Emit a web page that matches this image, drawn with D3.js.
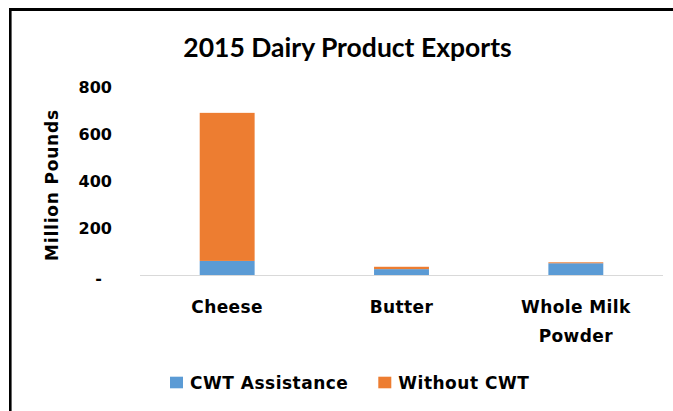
<!DOCTYPE html>
<html><head><meta charset="utf-8">
<script src="https://cdn.jsdelivr.net/npm/d3@7"></script>
<style>html,body{margin:0;padding:0;background:#fff;overflow:hidden}</style>
</head><body><svg id="c" width="673" height="411"></svg>
<script>
const categories = [["Cheese"], ["Butter"], ["Whole Milk", "Powder"]];
const categoryKeys = ["Cheese", "Butter", "Whole Milk Powder"];
const cwtAssistance = [60, 25, 50];
const withoutCWT = [630, 10, 4];
const seriesNames = ["CWT Assistance", "Without CWT"];
const seriesColors = ["#5B9BD5", "#ED7D31"];
const yTicks = [0, 200, 400, 600, 800];
const chartTitle = "2015 Dairy Product Exports";
const yTitle = "Million Pounds";

const svg = d3.select("#c");
const font = "'DejaVu Sans', sans-serif";
const titleFont = "Lato, 'Liberation Sans', sans-serif";

// frame (top and left)
svg.append("line").attr("x1", 9).attr("x2", 673).attr("y1", 9.5).attr("y2", 9.5).attr("stroke", "#000").attr("stroke-width", 3);
svg.append("line").attr("x1", 10.3).attr("x2", 10.3).attr("y1", 8).attr("y2", 411).attr("stroke", "#000").attr("stroke-width", 2.6);

const x = d3.scaleBand().domain(categoryKeys).range([140, 663]).paddingInner(0.685).paddingOuter(0.3425);
const y = d3.scaleLinear().domain([0, 800]).range([275, 87]);

const data = categoryKeys.map((k, i) => ({key: k, cwt: cwtAssistance[i], without: withoutCWT[i]}));
const stack = d3.stack().keys(["cwt", "without"])(data);

svg.append("g").selectAll("g").data(stack).join("g")
  .attr("fill", (d, i) => seriesColors[i])
  .selectAll("rect").data(d => d).join("rect")
  .attr("x", d => x(d.data.key))
  .attr("width", x.bandwidth())
  .attr("y", d => y(d[1]))
  .attr("height", d => y(d[0]) - y(d[1]));

// baseline
svg.append("line").attr("x1", 140).attr("x2", 663).attr("y1", y(0) + 0.5).attr("y2", y(0) + 0.5)
  .attr("stroke", "#d9d9d9").attr("stroke-width", 1);

// y tick labels
svg.append("g").selectAll("text").data(yTicks).join("text")
  .attr("x", d => d === 0 ? 102 : 112)
  .attr("y", d => y(d))
  .attr("dy", d => d === 0 ? "0.55em" : "0.36em")
  .attr("text-anchor", "end")
  .attr("font-family", font).attr("font-weight", 700).attr("font-size", 16)
  .attr("fill", "#000")
  .text(d => d === 0 ? "-" : d3.format("d")(d));

// y title
svg.append("text")
  .attr("transform", `translate(52,185) rotate(-90)`)
  .attr("text-anchor", "middle").attr("dy", "0.36em")
  .attr("font-family", font).attr("font-weight", 700).attr("font-size", 17)
  .attr("letter-spacing", 0.8)
  .attr("fill", "#000").text(yTitle);

// category labels
const cl = svg.append("g").selectAll("text").data(categories).join("text")
  .attr("x", (d, i) => x(categoryKeys[i]) + x.bandwidth() / 2)
  .attr("y", 313)
  .attr("text-anchor", "middle")
  .attr("font-family", font).attr("font-weight", 700).attr("font-size", 17)
  .attr("letter-spacing", 0.4)
  .attr("fill", "#000");
cl.selectAll("tspan").data(d => d).join("tspan")
  .attr("x", function() { return this.parentNode.getAttribute("x"); })
  .attr("dy", (d, i) => i === 0 ? 0 : 28.5)
  .text(d => d);

// title
svg.append("text").attr("x", 347.5).attr("y", 56.5).attr("text-anchor", "middle")
  .attr("font-family", titleFont).attr("font-weight", 700).attr("font-size", 26.5)
  .attr("fill", "#000").text(chartTitle);

// legend
const legX = [170, 378.3];
const lg = svg.append("g").selectAll("g").data(seriesNames).join("g")
  .attr("transform", (d, i) => `translate(${legX[i]},376.7)`);
lg.append("rect").attr("width", 13).attr("height", 11.6).attr("fill", (d, i) => seriesColors[i]);
lg.append("text").attr("x", 20).attr("y", 12.3)
  .attr("font-family", font).attr("font-weight", 700).attr("font-size", 17)
  .attr("letter-spacing", 0.5)
  .attr("fill", "#000").text(d => d);
</script></body></html>
